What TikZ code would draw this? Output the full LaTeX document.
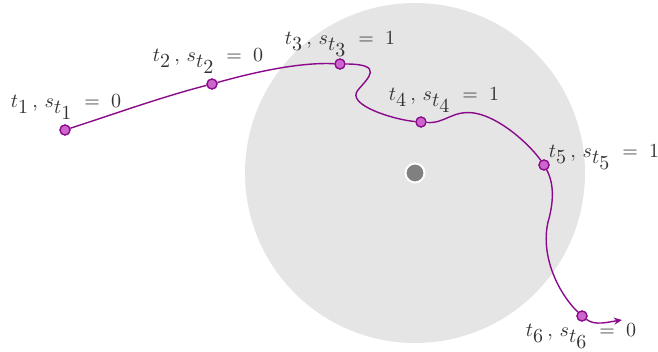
\documentclass[tikz,border=0pt]{standalone}
\usetikzlibrary{arrows.meta}
\definecolor{traj}{HTML}{8B0A8B}
\definecolor{ptfill}{HTML}{CC66CC}
\definecolor{zone}{HTML}{E5E5E5}
\newcommand{\lab}[2]{$t_{\textstyle #1}\,,\, s_{\textstyle t_{\textstyle #1}}\;=\;#2$}
\tikzset{
  pt/.style={circle,draw=traj,fill=ptfill,line width=0.6pt,inner sep=0pt,minimum size=5pt},
  lbl/.style={font=\normalsize,text=black!80,inner sep=0pt},
  trajline/.style={draw=traj,line width=0.7pt}
}
\begin{document}
\begin{tikzpicture}[x=0.5pt,y=-0.5pt]
\useasboundingbox (0,0) rectangle (658,352);
\fill[zone] (415,173) circle[radius=170];
\node[circle,fill=black!50,draw=white,line width=1pt,inner sep=0pt,minimum size=9.5pt] (c) at (415,173) {};
\node[pt] (p1) at (65,130) {};
\node[pt] (p2) at (212,84) {};
\node[pt] (p3) at (340,64) {};
\node[pt] (p4) at (421,122) {};
\node[pt] (p5) at (544,165) {};
\node[pt] (p6) at (582,316) {};
\coordinate (e) at (622,320);
\draw[trajline,-{Stealth[length=4pt,width=3.5pt]}]
  (p1) .. controls (120,112) and (165,96) .. (p2)
  .. controls (255,72) and (300,62) .. (p3)
  .. controls (385,64) and (368,78) .. (358,90)
  .. controls (345,105) and (395,120) .. (p4)
  .. controls (445,124) and (452,110) .. (474,113)
  .. controls (500,117) and (530,145) .. (p5)
  .. controls (555,185) and (553,205) .. (548,222)
  .. controls (540,258) and (560,295) .. (p6)
  .. controls (595,326) and (608,322) .. (e);
\foreach \n in {p1,p2,p3,p4,p5,p6} \node[pt] at (\n) {};
\node[lbl] (l1) at (66,107) {\lab{1}{0}};
\node[lbl] (l2) at (208,61) {\lab{2}{0}};
\node[lbl] (l3) at (340,44) {\lab{3}{1}};
\node[lbl] (l4) at (444,100) {\lab{4}{1}};
\node[lbl] (l5) at (604,157) {\lab{5}{1}};
\node[lbl] (l6) at (581,336) {\lab{6}{0}};
\end{tikzpicture}
\end{document}
